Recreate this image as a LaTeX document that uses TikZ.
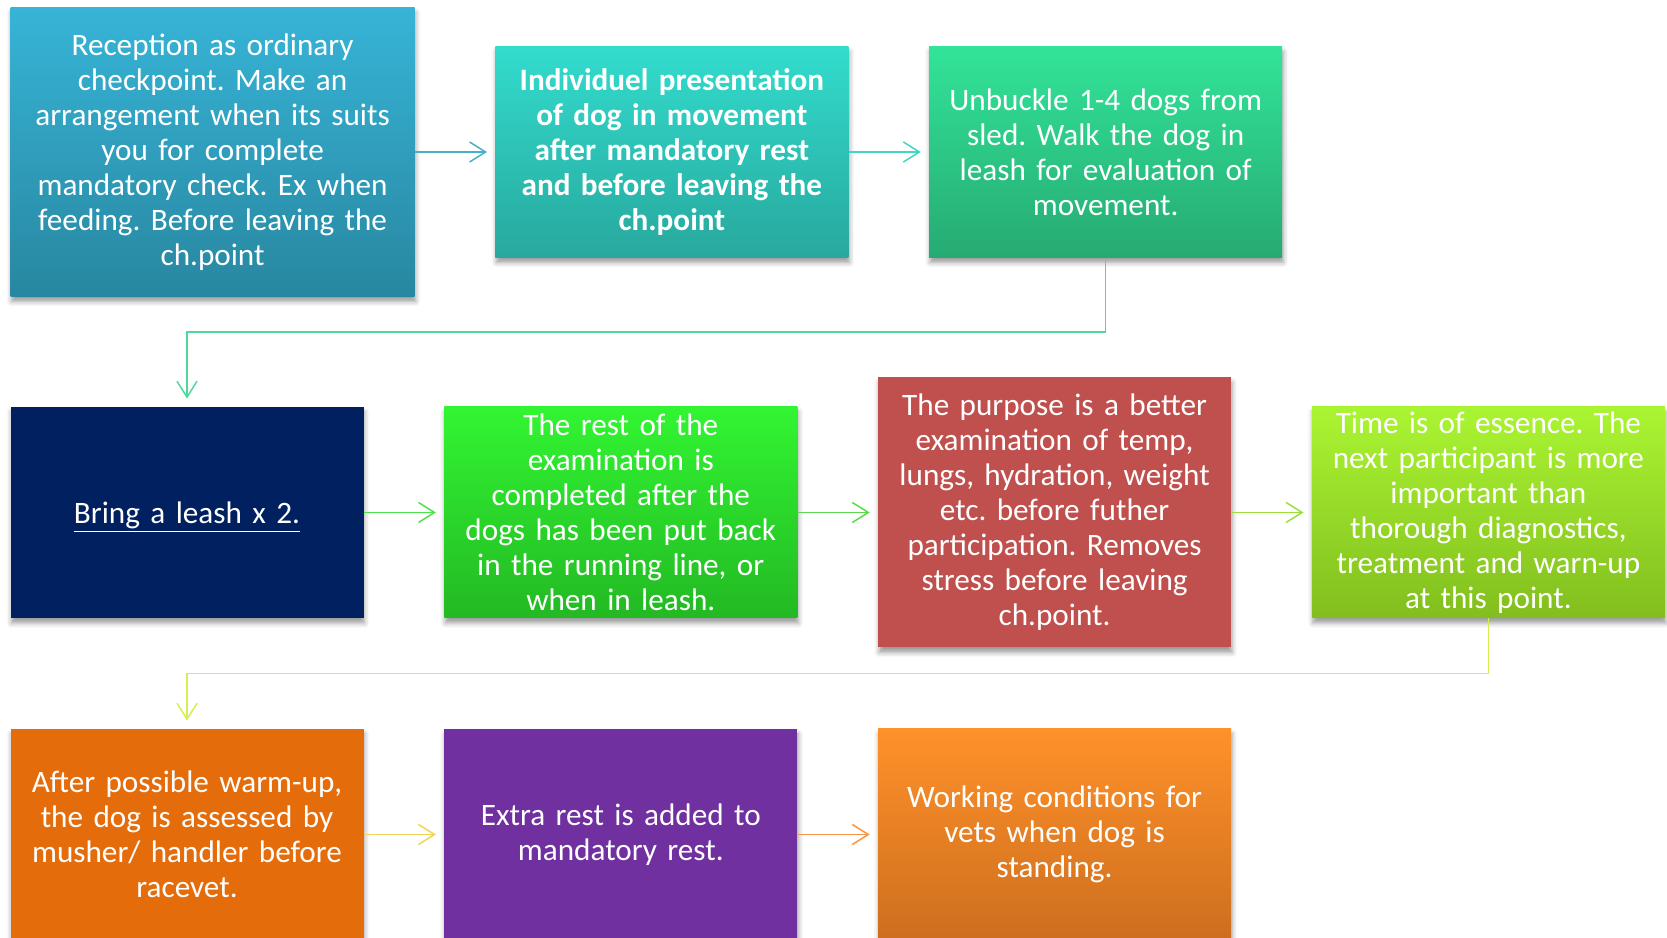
\documentclass[tikz,border=0pt]{standalone}
\usepackage{fontspec}
\setmainfont{Carlito}
\usetikzlibrary{positioning, arrows.meta, calc, shadows.blur}
\frenchspacing

\definecolor{bluetop}{HTML}{37B4D7}
\definecolor{bluebot}{HTML}{2887A0}
\definecolor{turqtop}{HTML}{32DCCD}
\definecolor{turqbot}{HTML}{28A89E}
\definecolor{mintop}{HTML}{32E498}
\definecolor{minbot}{HTML}{26AA73}
\definecolor{navy}{HTML}{002060}
\definecolor{greentop}{HTML}{32F532}
\definecolor{greenbot}{HTML}{23B923}
\definecolor{brick}{HTML}{C0504D}
\definecolor{limetop}{HTML}{AAF532}
\definecolor{limebot}{HTML}{82BE1E}
\definecolor{rust}{HTML}{E46C0A}
\definecolor{plum}{HTML}{7030A0}
\definecolor{orangetop}{HTML}{FF912A}
\definecolor{orangebot}{HTML}{CD6E1E}

\tikzset{
  box/.style={rectangle, text=white, align=center, text width=170.5pt,
    inner xsep=3pt, inner ysep=0pt, minimum height=105.5pt,
    font=\fontsize{15.6}{17.5}\selectfont,
    blur shadow={shadow xshift=0.5pt, shadow yshift=-2.5pt, shadow blur radius=2.5pt}},
  flow/.style={line width=0.75pt, shorten >=4pt, -{Straight Barb[length=8pt,width=10pt]}},
}

\begin{document}
\begin{tikzpicture}[node distance = 40pt]
        \useasboundingbox (0,0) rectangle (833.5pt,469pt);

        % first row
        \node[box, text width=196pt, minimum height=144.5pt, top color=bluetop, bottom color=bluebot] (1) at (106.3pt,393pt)
          {Reception as ordinary\\ checkpoint. Make an\\ arrangement when its suits\\ you for complete\\ mandatory check. Ex when\\ feeding. Before leaving the\\ ch.point};
        \node[box, right=of 1, top color=turqtop, bottom color=turqbot, font=\fontsize{15.6}{17.5}\selectfont\bfseries] (2)
          {Individuel presentation\\ of dog in movement\\ after mandatory rest\\ and before leaving the\\ ch.point};
        \node[box, right=of 2, top color=mintop, bottom color=minbot] (3)
          {Unbuckle 1-4 dogs from\\ sled. Walk the dog in\\ leash for evaluation of\\ movement.};

        % second row
        \node[box, fill=navy] (4) at (93.5pt,212.75pt) {\raisebox{0pt}[\height][0pt]{\underline{Bring a leash x 2.}}};
        \node[box, right=of 4, top color=greentop, bottom color=greenbot] (5)
          {The rest of the\\ examination is\\ completed after the\\ dogs has been put back\\ in the running line, or\\ when in leash.};
        \node[box, right=of 5, fill=brick, minimum height=135pt] (6)
          {The purpose is a better\\ examination of temp,\\ lungs, hydration, weight\\ etc. before futher\\ participation. Removes\\ stress before leaving\\ ch.point.};
        \node[box, right=of 6, top color=limetop, bottom color=limebot] (7)
          {Time is of essence. The\\ next participant is more\\ important than\\ thorough diagnostics,\\ treatment and warn-up\\ at this point.};

        % third row
        \node[box, fill=rust] (8) at (93.5pt,51.75pt)
          {After possible warm-up,\\ the dog is assessed by\\ musher/ handler before\\ racevet.};
        \node[box, right=of 8, fill=plum] (9) {Extra rest is added to\\ mandatory rest.};
        \node[box, right=of 9, top color=orangetop, bottom color=orangebot] (10)
          {Working conditions for\\ vets when dog is\\ standing.};

        \draw[flow, color={rgb,255:red,74;green,175;blue,203}] (1) -- (2);
        \draw[flow, color={rgb,255:red,64;green,214;blue,198}] (2) -- (3);
        \draw[flow, color={rgb,255:red,79;green,216;blue,154}] (3.south) |- ($(3.south)!0.5!(4.north)$) -| (4.north);
        \draw[flow, color={rgb,255:red,77;green,225;blue,77}] (4) -- (5);
        \draw[flow, color={rgb,255:red,94;green,216;blue,80}] (5) -- (6);
        \draw[flow, color={rgb,255:red,155;green,224;blue,58}] (6) -- (7);
        \draw[flow, color={rgb,255:red,212;green,240;blue,80}] (7.south) |- ($(7.south)!0.5!(8.north)$) -| (8.north);
        \draw[flow, color={rgb,255:red,243;green,211;blue,91}] (8) -- (9);
        \draw[flow, color={rgb,255:red,247;green,150;blue,70}] (9) -- (10);
      \end{tikzpicture}
\end{document}
